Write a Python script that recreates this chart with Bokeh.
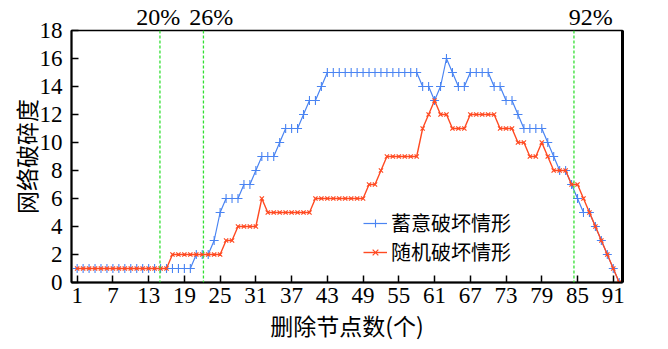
from bokeh.plotting import figure
from bokeh.models import Range1d, FixedTicker, LinearAxis, Span, Legend, LegendItem
from bokeh.embed import file_html
from bokeh.resources import INLINE

# ---- data ----
nodes = list(range(1, 93))
deliberate = [1, 1, 1, 1, 1, 1, 1, 1, 1, 1, 1, 1, 1, 1, 1, 1, 1, 1, 1, 1,
              2, 2, 2, 3, 5, 6, 6, 6, 7, 7, 8, 9, 9, 9, 10, 11, 11, 11, 12, 13,
              13, 14, 15, 15, 15, 15, 15, 15, 15, 15, 15, 15, 15, 15, 15, 15, 15, 15,
              14, 14, 13, 14, 16, 15, 14, 14, 15, 15, 15, 15, 14, 14, 13, 13, 12,
              11, 11, 11, 11, 10, 9, 8, 8, 7, 6, 5, 5, 4, 3, 2, 1, 0]
random_attack = [1, 1, 1, 1, 1, 1, 1, 1, 1, 1, 1, 1, 1, 1, 1, 1,
                 2, 2, 2, 2, 2, 2, 2, 2, 2, 3, 3, 4, 4, 4, 4, 6,
                 5, 5, 5, 5, 5, 5, 5, 5, 6, 6, 6, 6, 6, 6, 6, 6, 6,
                 7, 7, 8, 9, 9, 9, 9, 9, 9, 11, 12, 13, 12, 12, 11, 11, 11,
                 12, 12, 12, 12, 12, 11, 11, 11, 10, 10, 9, 9, 10, 9,
                 8, 8, 8, 7, 7, 6, 5, 4, 3, 2, 1, 0]
x_ticks = [1, 7, 13, 19, 25, 31, 37, 43, 49, 55, 61, 67, 73, 79, 85, 91]
y_ticks = [0, 2, 4, 6, 8, 10, 12, 14, 16, 18]
cut_x = [14.9, 22.2, 84.4]
cut_labels = ["20%", "26%", "92%"]
cut_label_x = [14.6, 23.5, 87.2]
series_names = ["蓄意破坏情形", "随机破坏情形"]
x_title = "删除节点数(个)"
y_title = "网络破碎度"

SERIF = "Liberation Serif"
CJK = "Noto Sans CJK SC"
BLUE = "#4a84f2"
RED = "#ff4a22"

p = figure(width=668, height=349, output_backend="svg", toolbar_location=None,
           x_range=Range1d(0.05, 92.55), y_range=Range1d(0, 18))
p.min_border_left = 71
p.min_border_right = 46
p.min_border_top = 29
p.min_border_bottom = 67
p.background_fill_color = "white"
p.border_fill_color = "white"
p.outline_line_color = "black"
p.outline_line_width = 1.5
p.xgrid.visible = False
p.ygrid.visible = False

for ax, ticks in ((p.xaxis[0], x_ticks), (p.yaxis[0], y_ticks)):
    ax.ticker = FixedTicker(ticks=ticks)
    ax.major_tick_in = 7
    ax.major_tick_out = 0
    ax.minor_tick_line_color = None
    ax.major_tick_line_width = 1.5
    ax.axis_line_width = 2
    ax.axis_line_color = "black"
    ax.major_tick_line_color = "black"
    ax.major_label_text_font = SERIF
    ax.major_label_text_font_size = "23px"
    ax.major_label_text_color = "black"
    ax.axis_label_text_font = CJK
    ax.axis_label_text_font_style = "normal"
    ax.axis_label_text_font_size = "23px"
    ax.axis_label_text_color = "black"

p.xaxis[0].axis_label = x_title
p.yaxis[0].axis_label = y_title
p.xaxis[0].major_label_standoff = 5
p.xaxis[0].axis_label_standoff = 2
p.yaxis[0].major_label_standoff = 9
p.yaxis[0].axis_label_standoff = -6

# thick right border
right = LinearAxis(ticker=FixedTicker(ticks=[]), major_tick_line_color=None,
                   minor_tick_line_color=None, axis_line_width=3,
                   axis_line_color="black", major_label_standoff=0)
p.add_layout(right, "right")

# percentage annotations above the frame
top = LinearAxis(ticker=FixedTicker(ticks=cut_label_x),
                 major_label_overrides={v: t for v, t in zip(cut_label_x, cut_labels)},
                 major_tick_line_color=None, minor_tick_line_color=None,
                 axis_line_color=None, major_label_standoff=-5,
                 major_label_text_font=SERIF, major_label_text_font_size="24px",
                 major_label_text_color="black")
p.add_layout(top, "above")

for xv in cut_x:
    p.add_layout(Span(location=xv, dimension="height", line_color="#33e033",
                      line_dash="3 2", line_width=1.3))

bl = p.line(nodes, deliberate, line_color=BLUE, line_width=1.2)
bm = p.scatter(nodes, deliberate, marker="cross", size=9, line_color=BLUE, line_width=1.1)
rl = p.line(nodes, random_attack, line_color=RED, line_width=1.4)
rm = p.scatter(nodes, random_attack, marker="x", size=6, line_color=RED, line_width=1.2)

def make_legend(label, renderers, loc):
    lg = Legend(items=[LegendItem(label=label, renderers=renderers)], location=loc)
    lg.label_text_font = CJK
    lg.label_text_font_size = "20px"
    lg.label_text_color = "black"
    lg.glyph_width = 24
    lg.glyph_height = 20
    lg.label_height = 20
    lg.label_standoff = 4
    lg.spacing = 0
    lg.padding = 0
    lg.margin = 0
    lg.border_line_color = None
    lg.background_fill_alpha = 0
    return lg

p.add_layout(make_legend(series_names[0], [bl, bm], (292, 45)))
p.add_layout(make_legend(series_names[1], [rl, rm], (292, 16)))

open("out.html", "w").write(file_html(p, INLINE))
